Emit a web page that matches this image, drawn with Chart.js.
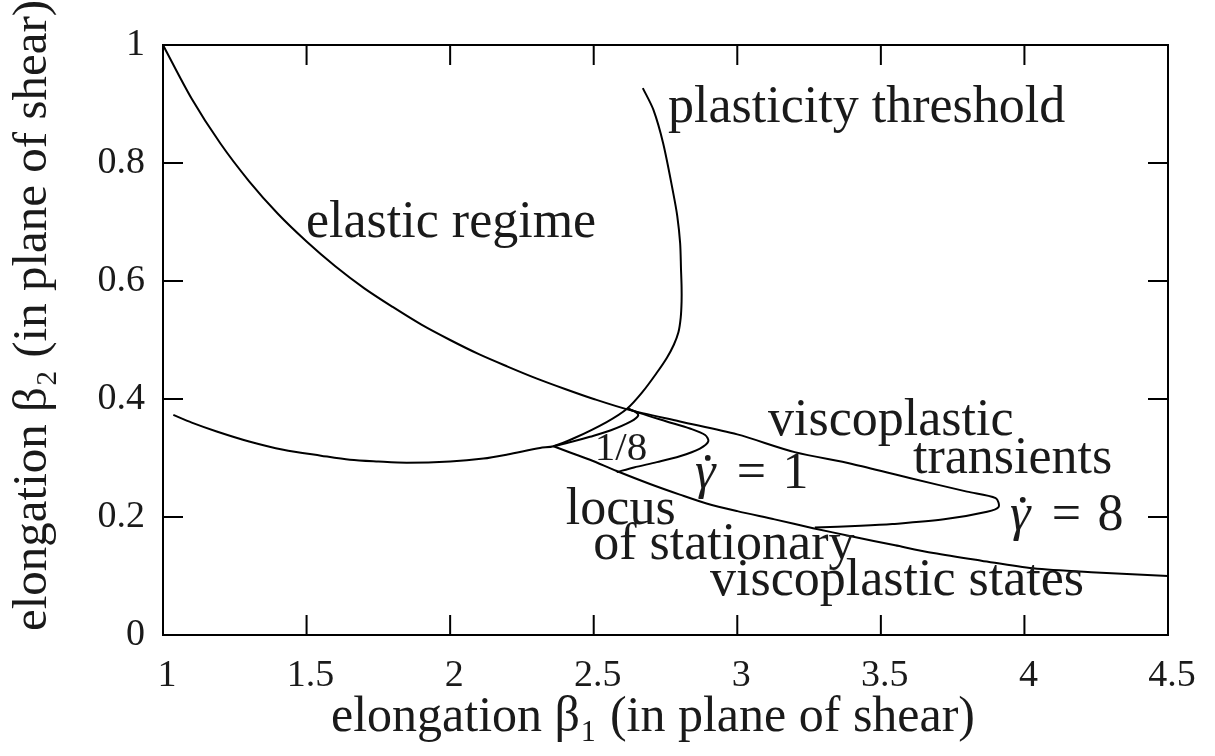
<!DOCTYPE html>
<html>
<head>
<meta charset="utf-8">
<title>Elongation regimes</title>
<script src="https://cdn.jsdelivr.net/npm/chart.js@4.4.1/dist/chart.umd.min.js"></script>
<style>
  html, body { margin: 0; padding: 0; background: #fff; }
  #wrap { width: 1215px; height: 756px; position: relative; }
</style>
</head>
<body>
<div id="wrap"><canvas id="chart"></canvas></div>
<script>
// beta1 / beta2, one pair of arrays per curve

// elastic branch from (1,1), then the shear rate 8 transient
const rate8B1 = [1.0, 1.1, 1.2, 1.3, 1.4, 1.5, 1.6, 1.7, 1.8, 1.9, 2.0, 2.1, 2.2, 2.3, 2.4, 2.5, 2.62, 2.8, 3.0, 3.2, 3.4, 3.6, 3.8, 3.9, 3.91, 3.87, 3.72, 3.54, 3.43, 3.27]
const rate8B2 = [1.0, 0.909, 0.833, 0.769, 0.714, 0.667, 0.625, 0.588, 0.556, 0.526, 0.5, 0.476, 0.455, 0.435, 0.417, 0.4, 0.382, 0.362, 0.34, 0.31, 0.29, 0.266, 0.243, 0.232, 0.217, 0.209, 0.196, 0.188, 0.185, 0.182]

// shear rate 1 transient
const rate1B1 = [2.617, 2.661, 2.754, 2.835, 2.888, 2.899, 2.87, 2.8, 2.72, 2.64, 2.58]
const rate1B2 = [0.384, 0.376, 0.362, 0.35, 0.339, 0.328, 0.316, 0.303, 0.293, 0.284, 0.276]

// shear rate 1/8 transient
const rateEighthB1 = [2.617, 2.645, 2.655, 2.63, 2.56, 2.487, 2.42, 2.36]
const rateEighthB2 = [0.384, 0.378, 0.372, 0.362, 0.347, 0.336, 0.327, 0.32]

// locus of stationary viscoplastic states
const locusB1 = [2.36, 2.42, 2.487, 2.58, 2.696, 2.8, 2.893, 3.0, 3.13, 3.264, 3.4, 3.55, 3.683, 3.85, 4.03, 4.25, 4.5]
const locusB2 = [0.32, 0.309, 0.297, 0.278, 0.256, 0.238, 0.223, 0.21, 0.196, 0.181, 0.167, 0.152, 0.139, 0.126, 0.113, 0.106, 0.1]

// plasticity threshold
const thresholdB1 = [1.036, 1.1, 1.187, 1.3, 1.419, 1.55, 1.651, 1.75, 1.849, 2.0, 2.116, 2.2, 2.313, 2.36, 2.429, 2.545, 2.617, 2.67, 2.719, 2.755, 2.779, 2.795, 2.803, 2.806, 2.806, 2.804, 2.801, 2.791, 2.777, 2.742, 2.708, 2.671]
const thresholdB2 = [0.373, 0.36, 0.345, 0.328, 0.314, 0.304, 0.297, 0.294, 0.292, 0.294, 0.299, 0.306, 0.317, 0.32, 0.333, 0.361, 0.384, 0.412, 0.444, 0.47, 0.492, 0.513, 0.538, 0.565, 0.59, 0.62, 0.664, 0.71, 0.749, 0.833, 0.89, 0.927]

// axes
const xTicks = [1, 1.5, 2, 2.5, 3, 3.5, 4, 4.5]
const yTicks = [0, 0.2, 0.4, 0.6, 0.8, 1]

const FONT = "'Liberation Serif', 'DejaVu Serif', serif"
const INK = "#1a1a1a"
const TICK = 20

// text written inside the plot, anchored at data coordinates (left, baseline)
const notes = [
  { text: "plasticity threshold", x: 2.759, y: 0.869 },
  { text: "elastic regime", x: 1.498, y: 0.675 },
  { text: "viscoplastic", x: 3.107, y: 0.339 },
  { text: "transients", x: 3.612, y: 0.275 },
  { text: "locus", x: 2.403, y: 0.188 },
  { text: "of stationary", x: 2.498, y: 0.129 },
  { text: "viscoplastic states", x: 2.905, y: 0.068 },
  { text: "1/8", x: 2.504, y: 0.297, size: 41 },
  { rate: "1", x: 2.853, y: 0.249 },
  { rate: "8", x: 3.95, y: 0.178 },
]

function toPoints(xs, ys) {
  return xs.map((x, i) => ({ x: x, y: ys[i] }))
}

function curve(label, xs, ys) {
  return {
    label: label,
    data: toPoints(xs, ys),
    showLine: true,
    borderColor: "#000",
    borderWidth: 2,
    pointRadius: 0,
    tension: 0.3,
    fill: false,
  }
}

// closed frame with inward ticks on all four sides
const framePlugin = {
  id: "frame",
  afterDraw(chart) {
    const { ctx, chartArea: a, scales } = chart
    ctx.save()
    ctx.strokeStyle = "#000"
    ctx.lineWidth = 2
    ctx.strokeRect(a.left, a.top, a.right - a.left, a.bottom - a.top)
    ctx.beginPath()
    xTicks.forEach((v) => {
      const px = scales.x.getPixelForValue(v)
      ctx.moveTo(px, a.bottom)
      ctx.lineTo(px, a.bottom - TICK)
      ctx.moveTo(px, a.top)
      ctx.lineTo(px, a.top + TICK)
    })
    yTicks.forEach((v) => {
      const py = scales.y.getPixelForValue(v)
      ctx.moveTo(a.left, py)
      ctx.lineTo(a.left + TICK, py)
      ctx.moveTo(a.right, py)
      ctx.lineTo(a.right - TICK, py)
    })
    ctx.stroke()
    ctx.restore()
  },
}

const notesPlugin = {
  id: "notes",
  afterDraw(chart) {
    const { ctx, scales } = chart
    ctx.save()
    ctx.fillStyle = INK
    ctx.textAlign = "left"
    ctx.textBaseline = "alphabetic"
    notes.forEach((n) => {
      const px = scales.x.getPixelForValue(n.x)
      const py = scales.y.getPixelForValue(n.y)
      const size = n.size || 52
      if (n.rate) {
        // gamma dot = rate
        ctx.font = "italic " + size + "px " + FONT
        ctx.fillText("γ", px, py)
        const w = ctx.measureText("γ").width
        ctx.beginPath()
        ctx.arc(px + w * 0.62, py - size * 0.58, size * 0.055, 0, Math.PI * 2)
        ctx.fill()
        ctx.font = size + "px " + FONT
        ctx.fillText("=", px + size * 0.8, py)
        ctx.fillText(n.rate, px + size * 1.68, py)
      } else {
        ctx.font = size + "px " + FONT
        ctx.fillText(n.text, px, py)
      }
    })
    ctx.restore()
  },
}

new Chart(document.getElementById("chart"), {
  type: "scatter",
  data: {
    datasets: [
      curve("rate 8", rate8B1, rate8B2),
      curve("rate 1", rate1B1, rate1B2),
      curve("rate 1/8", rateEighthB1, rateEighthB2),
      curve("stationary locus", locusB1, locusB2),
      curve("plasticity threshold", thresholdB1, thresholdB2),
    ],
  },
  options: {
    responsive: true,
    maintainAspectRatio: false,
    animation: false,
    layout: { padding: { top: 45, right: 47, left: 0, bottom: 0 } },
    plugins: {
      legend: { display: false },
      tooltip: { enabled: false },
    },
    scales: {
      x: {
        type: "linear",
        min: 1,
        max: 4.5,
        afterBuildTicks: (scale) => {
          scale.ticks = xTicks.map((v) => ({ value: v }))
        },
        afterFit: (scale) => {
          scale.height = 121
        },
        grid: { display: false, drawTicks: false },
        border: { display: false },
        ticks: {
          color: INK,
          padding: 18,
          labelOffset: 4,
          maxRotation: 0,
          font: { family: FONT, size: 38 },
          callback: (v) => String(v),
        },
        title: {
          display: true,
          // trailing en space nudges the label left, as in the original
          text: "elongation β₁ (in plane of shear)\u2002",
          color: INK,
          font: { family: FONT, size: 50 },
          padding: { top: 0, bottom: 8 },
        },
      },
      y: {
        type: "linear",
        min: 0,
        max: 1,
        afterBuildTicks: (scale) => {
          scale.ticks = yTicks.map((v) => ({ value: v }))
        },
        afterFit: (scale) => {
          scale.width = 163
        },
        grid: { display: false, drawTicks: false },
        border: { display: false },
        ticks: { color: INK, padding: 18, font: { family: FONT, size: 38 }, callback: (v) => String(v) },
        title: {
          display: true,
          // leading en spaces push the label up a little
          text: "\u2002\u2002elongation β₂ (in plane of shear)",
          color: INK,
          font: { family: FONT, size: 49 },
          padding: { top: 4, bottom: 0 },
        },
      },
    },
  },
  plugins: [framePlugin, notesPlugin],
})
</script>
</body>
</html>
